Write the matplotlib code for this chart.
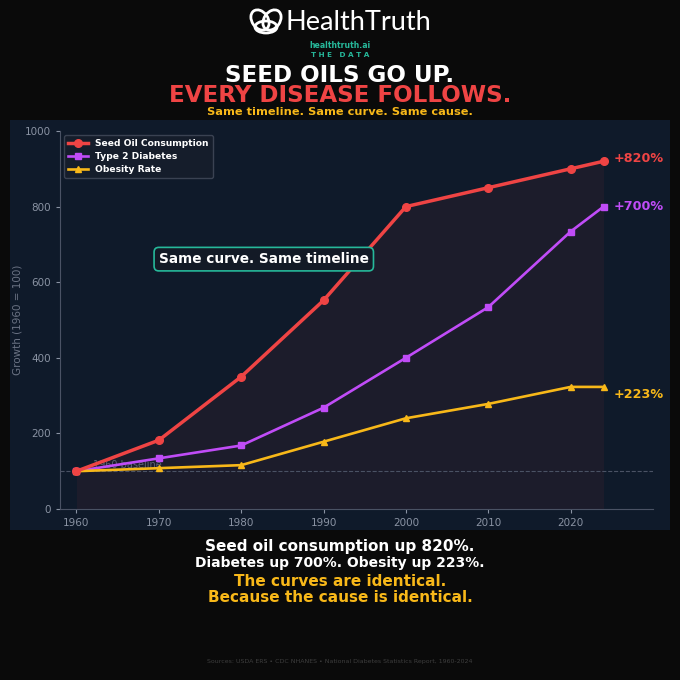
import numpy as np
import matplotlib.pyplot as plt
from matplotlib.patches import Rectangle, Ellipse

years = [1960, 1970, 1980, 1990, 2000, 2010, 2020, 2024]
seed_oil = [100, 182, 350, 552, 800, 850, 900, 920]
diabetes = [100, 134, 168, 268, 400, 534, 734, 800]
obesity = [100, 108, 116, 178, 240, 278, 323, 323]

end_labels = ['+820%', '+700%', '+223%']
series_names = ['Seed Oil Consumption', 'Type 2 Diabetes', 'Obesity Rate']

RED = '#ef4444'
PURPLE = '#c04cf7'
ORANGE = '#f8b819'
TEAL = '#26b89a'
BG = '#0a0a0a'
PANEL = '#0f1a2a'
GRAY = '#8a93a3'

fig = plt.figure(figsize=(6.8, 6.8), dpi=100)
fig.patch.set_facecolor(BG)

# chart panel behind the axes
fig.patches.append(Rectangle((10/680, 150/680), 660/680, 410/680, transform=fig.transFigure,
                             facecolor=PANEL, edgecolor='none', zorder=-5))

ax = fig.add_axes([60/680, 171/680, 593/680, 378/680])
ax.set_facecolor(PANEL)

ax.fill_between(years, seed_oil, 0, color=RED, alpha=0.06, lw=0)
ax.axhline(100, color='#4a5264', lw=0.8, ls='--', zorder=1)
ax.text(1962, 104, '1960 baseline', color='#5c6474', fontsize=7, va='bottom')

ax.plot(years, seed_oil, color=RED, lw=2.5, marker='o', ms=5.5, label=series_names[0], zorder=4)
ax.plot(years, diabetes, color=PURPLE, lw=1.9, marker='s', ms=4.5, label=series_names[1], zorder=3)
ax.plot(years, obesity, color=ORANGE, lw=1.9, marker='^', ms=4.5, label=series_names[2], zorder=3)

for vals, lab, col, dy in zip([seed_oil, diabetes, obesity], end_labels, [RED, PURPLE, ORANGE], [8, 0, -20]):
    ax.text(2025.2, vals[-1] + dy, lab, color=col, fontsize=9.2, fontweight='bold', va='center')

ax.text(1970, 661, 'Same curve. Same timeline', color='white', fontsize=9.8, fontweight='bold',
        va='center', ha='left',
        bbox=dict(boxstyle='round,pad=0.35', facecolor='#131a26', edgecolor=TEAL, lw=1.2), zorder=6)

ax.set_xlim(1958, 2030)
ax.set_ylim(0, 1000)
ax.set_xticks([1960, 1970, 1980, 1990, 2000, 2010, 2020])
ax.set_yticks([0, 200, 400, 600, 800, 1000])
ax.tick_params(colors=GRAY, labelsize=7.5, length=3)
for s in ['top', 'right']:
    ax.spines[s].set_visible(False)
for s in ['left', 'bottom']:
    ax.spines[s].set_color('#4a5264')
ax.set_ylabel('Growth (1960 = 100)', color='#6b7384', fontsize=7.5, labelpad=2)

leg = ax.legend(loc='upper left', fontsize=6.6, facecolor='#151d2b', edgecolor='#3a4252',
                framealpha=1, borderpad=0.45, handlelength=2.2, labelspacing=0.45,
                borderaxespad=0.4)
for t in leg.get_texts():
    t.set_color('white')
    t.set_fontweight('bold')

# header
for cx, cy, w, h, a in [(260, 20, 16, 22, 35), (272, 20, 16, 22, -35), (266, 27, 22, 12, 0)]:
    fig.patches.append(Ellipse((cx/680, 1 - cy/680), w/680, h/680, angle=a, transform=fig.transFigure,
                               facecolor='none', edgecolor='white', lw=2))
fig.text(285/680, 1 - 23/680, 'HealthTruth', color='white', fontsize=19.5, family='Lato',
         ha='left', va='center')
fig.text(0.5, 1 - 45/680, 'healthtruth.ai', color=TEAL, fontsize=5.6, fontweight='bold', ha='center', va='center')
fig.text(0.5, 1 - 55/680, 'T H E   D A T A', color=TEAL, fontsize=5.2, fontweight='bold', ha='center', va='center')
fig.text(0.5, 1 - 75/680, 'SEED OILS GO UP.', color='white', fontsize=16.6, fontweight='bold', ha='center', va='center')
fig.text(0.5, 1 - 96/680, 'EVERY DISEASE FOLLOWS.', color=RED, fontsize=16.6, fontweight='bold', ha='center', va='center')
fig.text(0.5, 1 - 112/680, 'Same timeline. Same curve. Same cause.', color=ORANGE, fontsize=8.2,
         fontweight='bold', ha='center', va='center')

# footer
fig.text(0.5, 1 - 547/680, 'Seed oil consumption up 820%.', color='white', fontsize=11, fontweight='bold', ha='center', va='center')
fig.text(0.5, 1 - 563/680, 'Diabetes up 700%. Obesity up 223%.', color='white', fontsize=10, fontweight='bold', ha='center', va='center')
fig.text(0.5, 1 - 582/680, 'The curves are identical.', color=ORANGE, fontsize=11, fontweight='bold', ha='center', va='center')
fig.text(0.5, 1 - 597/680, 'Because the cause is identical.', color=ORANGE, fontsize=11, fontweight='bold', ha='center', va='center')
fig.text(0.5, 1 - 662/680, 'Sources: USDA ERS \u2022 CDC NHANES \u2022 National Diabetes Statistics Report, 1960-2024',
         color='#3e3e3e', fontsize=4.5, ha='center', va='center')

fig.savefig('out.png', dpi=100, facecolor=BG)
